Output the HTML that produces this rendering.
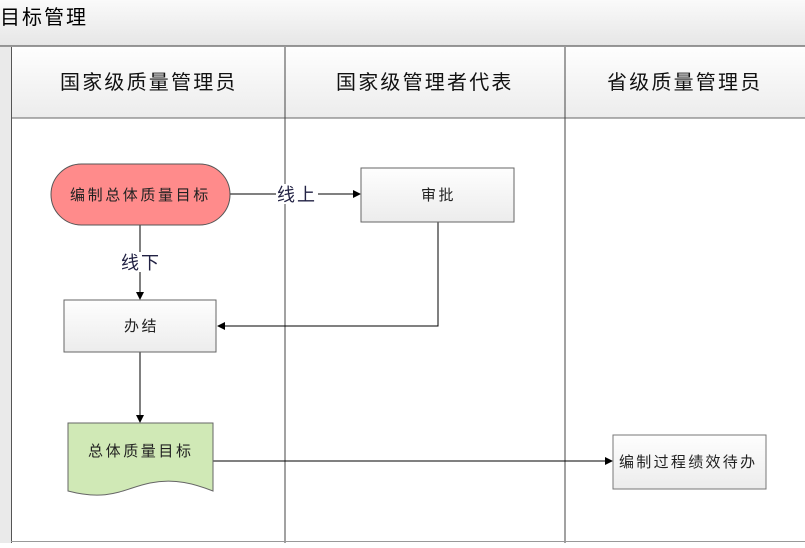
<!DOCTYPE html>
<html><head><meta charset="utf-8"><style>
body{margin:0;width:805px;height:543px;overflow:hidden;background:#fff;font-family:"Liberation Sans","Noto Sans CJK SC",sans-serif}
</style></head><body>
<svg width="805" height="543" xmlns="http://www.w3.org/2000/svg" font-family="'Liberation Sans','Noto Sans CJK SC',sans-serif">
<defs>
<linearGradient id="g" x1="0" y1="0" x2="0" y2="1"><stop offset="0" stop-color="#fefefe"/><stop offset="1" stop-color="#ececec"/></linearGradient>
<linearGradient id="t" x1="0" y1="0" x2="0" y2="1"><stop offset="0" stop-color="#fafafa"/><stop offset="1" stop-color="#e6e6e6"/></linearGradient>
<marker id="a" markerWidth="8" markerHeight="8" refX="7" refY="4" orient="auto" markerUnits="userSpaceOnUse"><path d="M0,0 L8,4 L0,8 z" fill="#000"/></marker>
</defs>
<rect x="0" y="0" width="805" height="46" fill="url(#t)"/>
<line x1="0" y1="46" x2="805" y2="46" stroke="#777" stroke-width="1.5"/>
<text x="0" y="24" font-size="20" letter-spacing="2" fill="#000">目标管理</text>
<rect x="0" y="47" width="11" height="496" fill="#eaeaea"/>
<rect x="11" y="47" width="794" height="71" fill="url(#g)"/>
<line x1="11" y1="118" x2="805" y2="118" stroke="#666"/>
<line x1="11.5" y1="47" x2="11.5" y2="543" stroke="#555"/>
<line x1="285" y1="47" x2="285" y2="543" stroke="#444"/>
<line x1="565" y1="47" x2="565" y2="543" stroke="#444"/>
<line x1="11" y1="541.5" x2="805" y2="541.5" stroke="#999"/>
<g font-size="20" fill="#111" letter-spacing="2.2">
<text x="60" y="89">国家级质量管理员</text>
<text x="336" y="89">国家级管理者代表</text>
<text x="607" y="89">省级质量管理员</text>
</g>
<line x1="230" y1="194" x2="360" y2="194" stroke="#000" marker-end="url(#a)"/>
<rect x="276" y="184" width="42" height="20" fill="#fff"/>
<text x="277" y="201" font-size="18" letter-spacing="2" fill="#224">线上</text>
<line x1="140" y1="225" x2="140" y2="299" stroke="#000" marker-end="url(#a)"/>
<rect x="120" y="252" width="40" height="20" fill="#fff"/>
<text x="121" y="269" font-size="18" letter-spacing="2" fill="#224">线下</text>
<polyline points="438,222 438,326 218,326" fill="none" stroke="#000" marker-end="url(#a)"/>
<line x1="140" y1="352" x2="140" y2="422" stroke="#000" marker-end="url(#a)"/>
<line x1="213" y1="461" x2="612" y2="461" stroke="#000" marker-end="url(#a)"/>
<rect x="51" y="164" width="179" height="61" rx="30.5" fill="#ff8b8b" stroke="#555"/>
<text x="70" y="200" font-size="15" letter-spacing="2.6" fill="#222">编制总体质量目标</text>
<rect x="361" y="168" width="153" height="54" fill="url(#g)" stroke="#666"/>
<text x="421" y="200" font-size="15" letter-spacing="2.5" fill="#222">审批</text>
<rect x="64" y="300" width="152" height="52" fill="url(#g)" stroke="#666"/>
<text x="124" y="331" font-size="15" letter-spacing="2.5" fill="#222">办结</text>
<path d="M68,423 L213,423 L213,491 C195,484 175,478 150,483 C125,488 110,502 68,491 Z" fill="#d0e9b6" stroke="#666"/>
<text x="88" y="456" font-size="15" letter-spacing="2.6" fill="#222">总体质量目标</text>
<rect x="613" y="435" width="153" height="54" fill="url(#g)" stroke="#777"/>
<text x="619" y="467" font-size="15" letter-spacing="2.3" fill="#222">编制过程绩效待办</text>
</svg>
</body></html>
